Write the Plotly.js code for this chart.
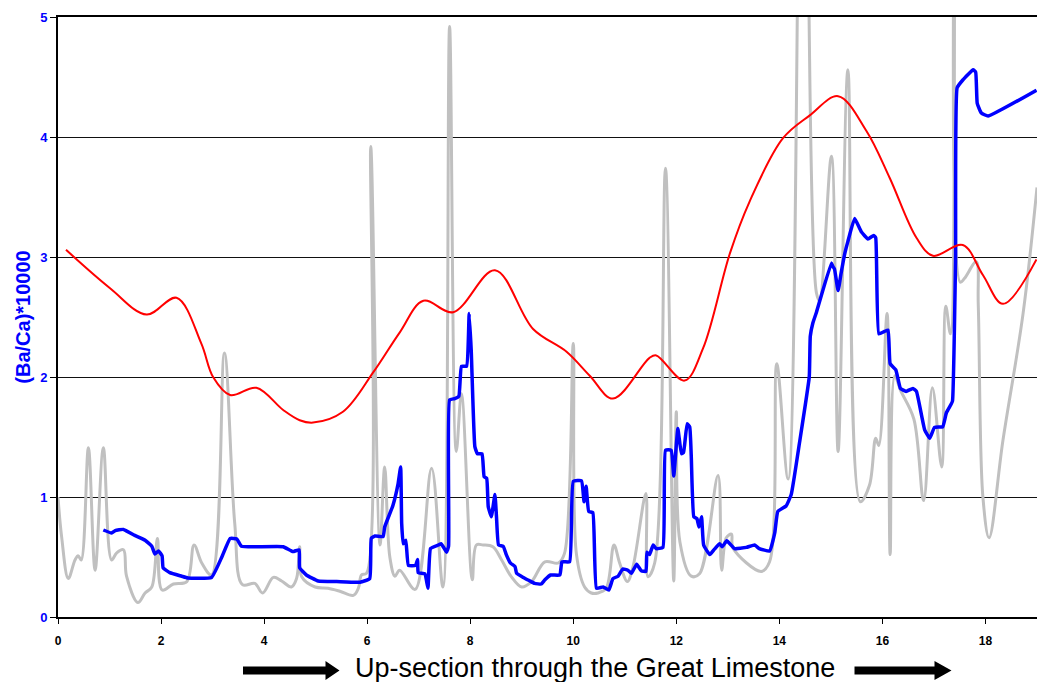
<!DOCTYPE html>
<html>
<head>
<meta charset="utf-8">
<script src="https://cdn.plot.ly/plotly-3.0.1.min.js"></script>
<style>html,body{margin:0;padding:0;background:#fff;}#chart{width:1037px;height:682px;}</style>
</head>
<body>
<div id="chart"></div>
<script>
// Raw Ba/Ca record (grey)
const rawX = [0.00,0.07,0.20,0.33,0.39,0.45,0.59,0.72,0.88,1.04,1.14,1.27,1.33,1.55,1.69,1.82,1.93,2.02,2.24,2.50,2.64,2.79,2.98,3.23,3.43,3.58,3.82,3.97,4.18,4.34,4.53,4.63,4.69,4.73,4.99,5.24,5.47,5.73,5.83,5.89,5.99,6.07,6.25,6.34,6.44,6.54,6.63,6.93,7.25,7.47,7.60,7.73,7.83,8.04,8.12,8.25,8.44,8.61,8.80,9.00,9.19,9.45,9.71,9.83,10.00,10.06,10.22,10.35,10.48,10.64,10.79,10.90,11.05,11.16,11.41,11.45,11.58,11.79,11.95,12.00,12.07,12.29,12.45,12.81,12.88,12.97,13.07,13.10,13.65,13.81,13.95,14.17,14.46,14.72,14.78,15.01,15.14,15.33,15.57,15.75,15.87,15.93,16.09,16.15,16.24,16.35,16.61,16.80,16.97,17.15,17.23,17.32,17.41,17.51,17.59,17.82,17.86,17.95,18.07,18.34,18.73,19.00];
const rawY = [1.00,0.67,0.32,0.475,0.51,0.475,1.41,0.39,1.41,0.475,0.535,0.56,0.34,0.12,0.20,0.25,0.655,0.225,0.275,0.295,0.60,0.45,0.35,2.20,0.78,0.27,0.28,0.20,0.33,0.30,0.25,0.32,0.585,0.335,0.25,0.24,0.215,0.18,0.24,0.35,0.365,3.92,0.60,1.25,0.50,0.34,0.39,0.23,1.24,0.25,4.92,1.38,1.86,0.31,0.60,0.60,0.585,0.475,0.335,0.25,0.295,0.46,0.45,0.53,2.28,0.53,0.25,0.20,0.20,0.24,0.60,0.45,0.295,0.42,1.03,0.335,0.45,3.74,0.30,1.71,0.625,0.34,0.36,1.18,0.39,0.66,0.69,0.575,0.38,0.46,2.11,1.15,8.5,2.70,2.635,3.84,1.38,4.56,0.96,1.10,1.49,1.43,2.53,0.52,2.01,1.89,1.65,0.97,1.91,1.25,2.59,2.36,7.5,2.79,2.82,2.96,2.6,1.0,0.66,1.475,2.53,3.58];

// Ba/Ca running record (blue)
const blueX = [0.88,1.04,1.11,1.27,1.49,1.69,1.82,1.88,1.95,2.02,2.04,2.17,2.40,2.52,2.98,3.18,3.34,3.47,3.56,3.82,4.37,4.56,4.68,4.69,4.82,5.05,5.41,5.86,6.05,6.08,6.15,6.31,6.34,6.50,6.60,6.65,6.67,6.70,6.75,6.80,6.94,6.98,6.99,7.12,7.18,7.23,7.38,7.44,7.54,7.58,7.60,7.70,7.78,7.83,7.93,7.98,8.02,8.09,8.14,8.23,8.27,8.32,8.35,8.41,8.48,8.51,8.55,8.64,8.70,8.78,8.87,8.90,9.03,9.16,9.25,9.38,9.45,9.56,9.74,9.78,9.93,10.00,10.16,10.21,10.25,10.30,10.38,10.45,10.58,10.69,10.77,10.87,10.96,11.06,11.13,11.23,11.32,11.41,11.43,11.48,11.55,11.61,11.74,11.79,11.90,11.95,12.03,12.10,12.14,12.21,12.26,12.29,12.34,12.40,12.44,12.49,12.53,12.65,12.74,12.84,12.89,12.98,13.13,13.36,13.52,13.61,13.81,13.91,13.97,14.13,14.23,14.39,14.58,14.60,14.65,14.72,15.01,15.04,15.07,15.14,15.20,15.27,15.33,15.46,15.59,15.72,15.83,15.87,15.93,16.04,16.11,16.15,16.26,16.35,16.46,16.59,16.66,16.82,16.92,17.01,17.17,17.24,17.33,17.36,17.42,17.45,17.56,17.76,17.81,17.84,17.92,18.05,18.99];
const blueY = [0.725,0.70,0.72,0.73,0.68,0.64,0.59,0.525,0.55,0.51,0.41,0.37,0.34,0.325,0.33,0.50,0.655,0.65,0.59,0.585,0.586,0.545,0.56,0.41,0.35,0.30,0.295,0.29,0.32,0.655,0.675,0.67,0.75,0.93,1.11,1.25,0.78,0.61,0.64,0.43,0.43,0.48,0.37,0.36,0.24,0.57,0.60,0.61,0.54,0.59,1.81,1.82,1.84,2.09,2.09,2.53,2.22,1.42,1.36,1.36,1.17,1.155,0.92,0.835,1.02,0.835,0.60,0.59,0.52,0.45,0.42,0.365,0.33,0.30,0.28,0.275,0.31,0.35,0.35,0.46,0.46,1.13,1.135,0.96,1.09,0.88,0.87,0.24,0.25,0.225,0.32,0.34,0.40,0.39,0.365,0.44,0.385,0.38,0.54,0.52,0.60,0.57,0.58,1.39,1.39,1.175,1.57,1.36,1.37,1.61,1.585,1.34,0.835,0.82,0.75,0.835,0.60,0.52,0.565,0.61,0.585,0.635,0.57,0.58,0.60,0.57,0.55,0.70,0.88,0.925,1.02,1.45,2.00,2.34,2.45,2.54,2.95,2.92,2.90,2.72,2.87,3.03,3.13,3.32,3.21,3.15,3.18,3.16,2.36,2.38,2.39,2.11,2.06,1.905,1.88,1.905,1.88,1.56,1.49,1.58,1.585,1.70,1.77,1.80,3.00,4.41,4.475,4.56,4.54,4.28,4.20,4.175,4.39];

// Smoothed trend (red)
const redX = [0.155,1.01,1.72,2.30,2.78,3.01,3.34,3.85,4.37,4.69,4.95,5.53,6.12,6.63,7.09,7.67,8.48,9.22,9.87,10.32,10.77,11.48,11.61,12.16,12.52,13.04,13.42,14.07,14.59,15.14,15.69,16.14,16.66,16.98,17.56,17.95,18.34,18.99];
const redY = [3.06,2.74,2.52,2.66,2.28,2.00,1.85,1.91,1.725,1.64,1.62,1.71,2.04,2.37,2.635,2.54,2.89,2.40,2.21,2.01,1.82,2.16,2.18,1.97,2.24,3.03,3.46,3.99,4.18,4.34,4.05,3.66,3.16,3.01,3.10,2.85,2.61,2.98];

const xTicks = [0,2,4,6,8,10,12,14,16,18];
const yTicks = [0,1,2,3,4,5];
const yTitle = '(Ba/Ca)*10000';
const bottomText = 'Up-section through the Great Limestone';

const W = 1037, H = 682, ML = 58, MR = 0, MT = 17, MB = 65;
const PW = W - ML - MR, PH = H - MT - MB;
const px2x = p => (p - ML) / PW;
const py2y = p => (H - MB - p) / PH;
function arrowPath(x0, xb, xt, yc) {
  const sh = 4, hh = 9.5;
  const pts = [[x0, yc - sh], [xb, yc - sh], [xb, yc - hh], [xt, yc], [xb, yc + hh], [xb, yc + sh], [x0, yc + sh]];
  return 'M ' + pts.map(p => px2x(p[0]).toFixed(5) + ' ' + py2y(p[1]).toFixed(5)).join(' L ') + ' Z';
}

const font = 'Liberation Sans, Arial, sans-serif';
const traces = [
  {x: rawX, y: rawY, mode: 'lines', line: {color: '#c0c0c0', width: 3, shape: 'spline', smoothing: 1}, hoverinfo: 'skip'},
  {x: blueX, y: blueY, mode: 'lines', line: {color: '#0000ff', width: 3.5, shape: 'spline', smoothing: 0.35}, hoverinfo: 'skip'},
  {x: redX, y: redY, mode: 'lines', line: {color: '#ff0000', width: 2, shape: 'spline', smoothing: 1}, hoverinfo: 'skip'}
];
const layout = {
  width: W, height: H,
  margin: {l: ML, r: MR, t: MT, b: MB, pad: 0},
  paper_bgcolor: '#fff', plot_bgcolor: '#fff',
  showlegend: false,
  xaxis: {
    range: [0, 19], tickvals: xTicks, ticktext: xTicks.map(String),
    ticks: 'outside', ticklen: 5, tickwidth: 1, tickcolor: '#000',
    showline: true, linecolor: '#000', linewidth: 2, mirror: true,
    showgrid: false, zeroline: false, automargin: false,
    ticklabelstandoff: 7,
    tickfont: {family: font, size: 12, color: '#000', weight: 'bold'}
  },
  yaxis: {
    range: [0, 5], tickvals: yTicks, ticktext: yTicks.map(String),
    ticks: 'outside', ticklen: 6, tickwidth: 1, tickcolor: '#000',
    showline: true, linecolor: '#000', linewidth: 2,
    showgrid: true, gridcolor: '#111', gridwidth: 1, zeroline: false, automargin: false,
    tickfont: {family: font, size: 13, color: '#0000ff', weight: 'bold'},
    title: {text: yTitle, standoff: 4, font: {family: font, size: 20, color: '#0000ff', weight: 'bold'}}
  },
  annotations: [
    {text: bottomText, xref: 'paper', yref: 'paper', x: px2x(594.5), y: py2y(668), xanchor: 'center', yanchor: 'middle', showarrow: false,
     font: {family: font, size: 27, color: '#000'}}
  ],
  shapes: [
    {type: 'path', xref: 'paper', yref: 'paper', path: arrowPath(243, 325.5, 339.5, 670.5), fillcolor: '#000', line: {width: 0}},
    {type: 'path', xref: 'paper', yref: 'paper', path: arrowPath(854.5, 934.5, 951.5, 670.5), fillcolor: '#000', line: {width: 0}}
  ]
};
Plotly.newPlot('chart', traces, layout, {staticPlot: true, displayModeBar: false});
</script>
</body>
</html>
